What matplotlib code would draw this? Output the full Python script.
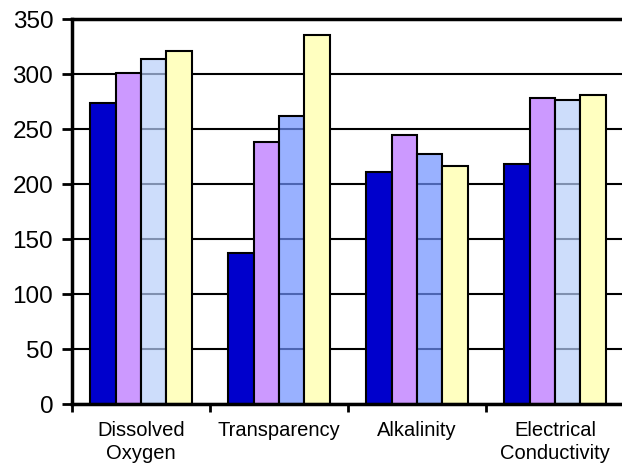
import matplotlib
matplotlib.use('Agg')
import matplotlib.pyplot as plt
import numpy as np

matplotlib.rc('font', family='Liberation Sans')

categories = ['Dissolved\nOxygen', 'Transparency', 'Alkalinity', 'Electrical\nConductivity']
series_1 = [274, 137, 211, 218]
series_2 = [301, 238, 245, 278]
series_3 = [314, 262, 227, 276]
series_4 = [321, 335, 216, 281]
yticks = [0, 50, 100, 150, 200, 250, 300, 350]

# third series changes shade per group and lets the grid show through
c1 = '#0000CC'
c2 = '#CC99FF'
c3 = [(0.72, 0.81, 0.98, 0.7), (0.43, 0.57, 1.0, 0.7),
      (0.43, 0.57, 1.0, 0.7), (0.72, 0.81, 0.98, 0.7)]
c4 = '#FFFFC0'

fig = plt.figure(figsize=(6.22, 4.69), dpi=100)
ax = fig.add_axes([72/622, 65/469, 552/622, 385/469])

x = np.arange(len(categories))
w = 0.183
ax.set_axisbelow(True)
ax.yaxis.grid(True, color='black', lw=1.5)
ax.bar(x - 1.5*w, series_1, w, color=c1, edgecolor='black', lw=1.5)
ax.bar(x - 0.5*w, series_2, w, color=c2, edgecolor='black', lw=1.5)
ax.bar(x + 0.5*w, series_3, w, color=c3, edgecolor='black', lw=1.5)
ax.bar(x + 1.5*w, series_4, w, color=c4, edgecolor='black', lw=1.5)

ax.set_xlim(-0.5, 3.5)
ax.set_ylim(0, 350)
ax.set_yticks(yticks)
ax.set_xticks(np.arange(-0.5, 3.6, 1))
ax.set_xticklabels([])
ax.set_xticks(x, minor=True)
ax.set_xticklabels(categories, minor=True, linespacing=1.3)
ax.tick_params(axis='x', which='minor', length=0, pad=12, labelsize=14.5)
ax.tick_params(axis='x', which='major', length=6, width=2, direction='out')
ax.tick_params(axis='y', length=7.5, width=2, labelsize=17.5, pad=6)

ax.spines['right'].set_visible(False)
ax.spines['top'].set_linewidth(2.5)
ax.spines['left'].set_linewidth(2.5)
ax.spines['bottom'].set_linewidth(2.5)

fig.savefig('out.png', dpi=100)
